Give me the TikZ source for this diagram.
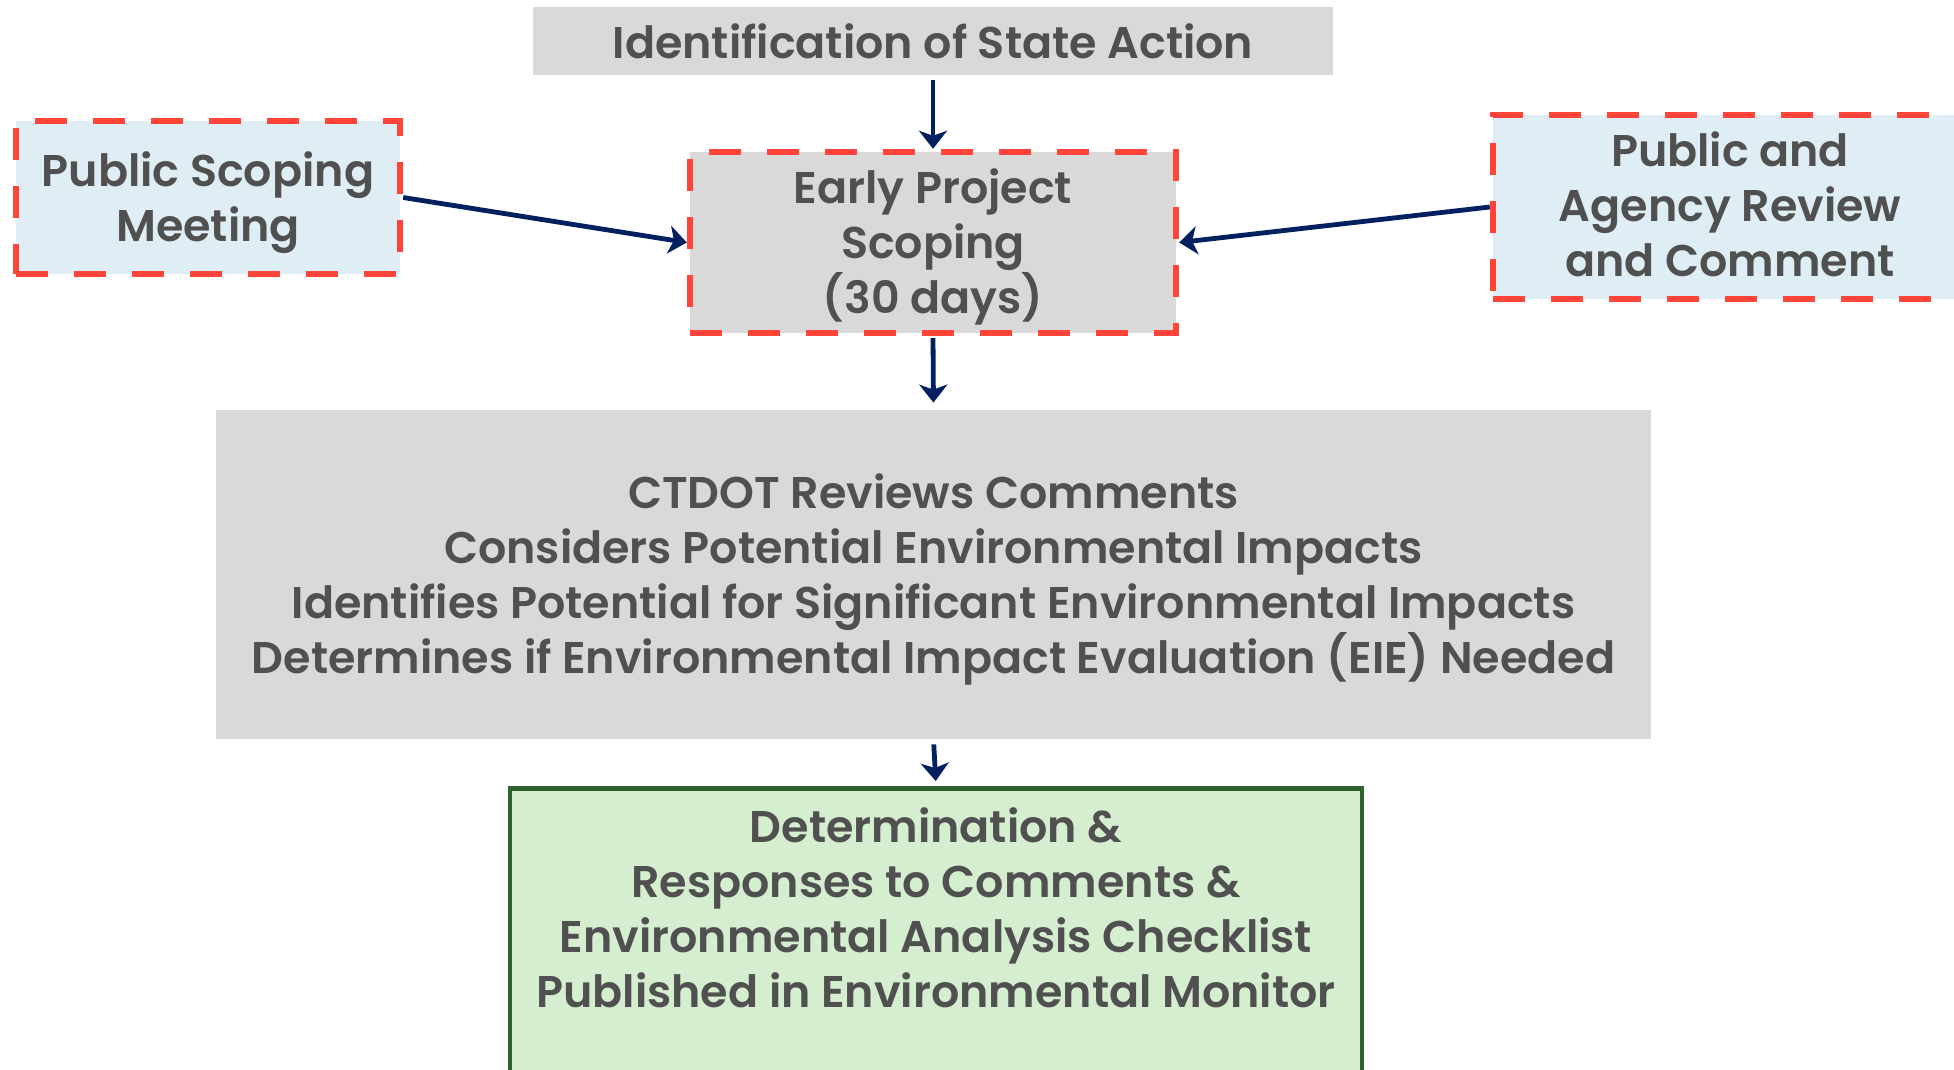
\documentclass[tikz,border=0pt]{standalone}
\usepackage{fontspec}
\newfontfamily\boxfont{Poppins SemiBold}
\usetikzlibrary{arrows.meta}
\definecolor{boxgray}{HTML}{D9D9D9}
\definecolor{lightblue}{HTML}{DFEDF5}
\definecolor{dashred}{HTML}{FF4539}
\definecolor{navy}{HTML}{002060}
\definecolor{txtgray}{HTML}{505050}
\definecolor{lightgreen}{HTML}{D5EECF}
\definecolor{darkgreen}{HTML}{2E6230}
\newcommand{\downstrut}{\rule{0pt}{22.3pt}}
\newcommand{\upstrut}{\rule[-3pt]{0pt}{3pt}}
\begin{document}
\begin{tikzpicture}[x=0.5pt,y=-0.5pt,
 lbl/.style={font=\boxfont\fontsize{22.2}{27.5}\selectfont, text=txtgray, align=center},
 graybox/.style={lbl, fill=boxgray, inner sep=0pt},
 dashbox/.style={lbl, draw=dashred, line width=3.2pt, dash pattern=on 16pt off 13pt, inner sep=0pt},
 arr/.style={draw=navy, line width=2.4pt, -{Stealth[length=9pt,width=14pt,inset=2.5pt]}}
]
\useasboundingbox (0,0) rectangle (1954,1070);
\clip (0,0) rectangle (1954,1070);
\fill[white] (0,0) rectangle (1954,1070);
\node[graybox, minimum width=400pt, minimum height=34pt] (top) at (933,41) {Identification of State Action};
\node[dashbox, fill=boxgray, minimum width=243pt, minimum height=90.5pt] (eps) at (933,242.5) {\downstrut Early Project\\Scoping\\(30 days)};
\node[dashbox, fill=lightblue, minimum width=192pt, minimum height=76.5pt] (psm) at (208,197.5) {\downstrut Public Scoping\\Meeting};
\node[dashbox, fill=lightblue, minimum width=237pt, minimum height=92pt] (par) at (1730,207) {Public and\\Agency Review\\and Comment\upstrut};
\node[graybox, minimum width=717.5pt, minimum height=164.5pt] (ctdot) at (933.5,574.5) {\downstrut CTDOT Reviews Comments\\Considers Potential Environmental Impacts\\Identifies Potential for Significant Environmental Impacts\\Determines if Environmental Impact Evaluation (EIE) Needed};
\node[draw=darkgreen, fill=lightgreen, line width=2.4pt, minimum width=426pt, minimum height=170pt, anchor=north, inner sep=0pt] (det) at (936,786) {};
\node[lbl] (dettext) at (936,908) {Determination \&\\Responses to Comments \&\\Environmental Analysis Checklist\\Published in Environmental Monitor};
\draw[arr, shorten <=2.5pt] (top.south) -- (eps.north);
\draw[arr] (psm.east) -- (eps.west);
\draw[arr] (par.west) -- (eps.east);
\draw[arr, shorten <=1pt, shorten >=3.5pt] (eps.south) -- (ctdot.north);
\draw[arr, shorten <=2.5pt, shorten >=2.5pt] (ctdot.south) -- (det.north);
\end{tikzpicture}
\end{document}
